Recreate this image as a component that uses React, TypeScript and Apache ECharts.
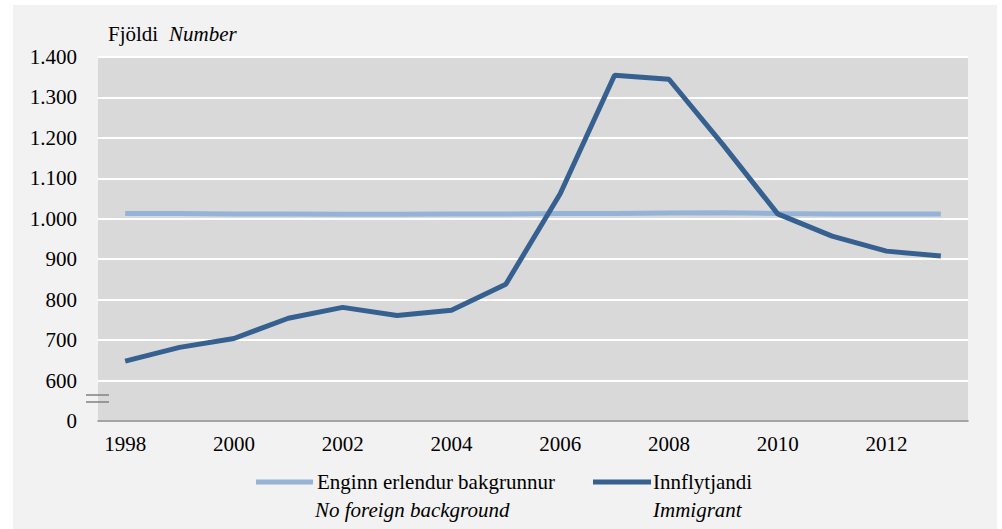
import React, { useEffect, useRef } from "react";
import * as echarts from "echarts";

const years = ["1998","1999","2000","2001","2002","2003","2004","2005","2006","2007","2008","2009","2010","2011","2012","2013"];
const noForeign = [1013,1013,1012,1012,1011,1011,1012,1012,1013,1013,1014,1015,1013,1012,1012,1012];
const immigrant = [648,682,704,754,781,761,774,838,1062,1355,1345,1182,1012,957,920,908];
const seriesNames = ["Enginn erlendur bakgrunnur", "Innflytjandi"];
const seriesNamesEn = ["No foreign background", "Immigrant"];
const colors = ["#95b3d7", "#35608f"];

const FONT = "Liberation Serif";
const FS = 21;

export default function App() {
  const ref = useRef<HTMLDivElement>(null);
  useEffect(() => {
    if (!ref.current) return;
    const chart = echarts.init(ref.current, null, { renderer: "svg" });
    const fmt = (v: number) => {
      if (v === 500) return "0";
      const s = String(Math.round(v));
      return s.replace(/\B(?=(\d{3})+(?!\d))/g, ".");
    };
    const legendItem = (i: number, x1: number, x2: number, tx: number, tx2: number) => [
      { type: "line", shape: { x1, y1: 482, x2, y2: 482 }, style: { stroke: colors[i], lineWidth: 5 } },
      { type: "text", x: tx, y: 482, style: { text: seriesNames[i], fontFamily: FONT, fontSize: FS, fill: "#000", verticalAlign: "middle" } },
      { type: "text", x: tx2, y: 510, style: { text: seriesNamesEn[i], fontFamily: FONT, fontSize: FS, fontStyle: "italic", fill: "#000", verticalAlign: "middle" } },
    ];
    chart.setOption({
      animation: false,
      backgroundColor: "#ffffff",
      textStyle: { fontFamily: FONT },
      graphic: [
        { type: "rect", z: -100, shape: { x: 13, y: 5, width: 984, height: 530 }, style: { fill: "#f2f2f2" } },
        { type: "text", x: 108, y: 34, style: { text: "Fjöldi", fontFamily: FONT, fontSize: FS, fill: "#000", verticalAlign: "middle" } },
        { type: "text", x: 169, y: 34, style: { text: "Number", fontFamily: FONT, fontSize: FS, fontStyle: "italic", fill: "#000", verticalAlign: "middle" } },
        { type: "line", z: 100, shape: { x1: 86, y1: 395, x2: 109, y2: 395 }, style: { stroke: "#808080", lineWidth: 1.5 } },
        { type: "line", z: 100, shape: { x1: 86, y1: 402, x2: 109, y2: 402 }, style: { stroke: "#808080", lineWidth: 1.5 } },
        ...legendItem(0, 256, 313, 317, 315),
        ...legendItem(1, 593, 651, 653, 653),
      ],
      grid: { left: 98, right: 34, top: 57, bottom: 108, containLabel: false },
      xAxis: {
        type: "category",
        data: years,
        boundaryGap: true,
        axisLine: { lineStyle: { color: "#868686", width: 1.5 } },
        axisTick: { show: false },
        axisLabel: { interval: 1, color: "#000", fontSize: FS, fontFamily: FONT, margin: 12 },
      },
      yAxis: {
        type: "value",
        min: 500,
        max: 1400,
        interval: 100,
        axisLine: { show: false },
        axisTick: { show: false },
        axisLabel: { formatter: fmt, color: "#000", fontSize: FS, fontFamily: FONT, margin: 21 },
        splitLine: { lineStyle: { color: "#ffffff", width: 2 } },
        splitArea: { show: true, areaStyle: { color: ["#d9d9d9", "#d9d9d9"] } },
      },
      series: [
        {
          name: seriesNames[0],
          type: "line",
          data: noForeign,
          symbol: "none",
          lineStyle: { color: colors[0], width: 5 },
          itemStyle: { color: colors[0] },
        },
        {
          name: seriesNames[1],
          type: "line",
          data: immigrant,
          symbol: "none",
          lineStyle: { color: colors[1], width: 5 },
          itemStyle: { color: colors[1] },
        },
      ],
    });
    return () => chart.dispose();
  }, []);
  return <div ref={ref} style={{ position: "fixed", left: 0, top: 0, width: 1002, height: 529 }} />;
}
